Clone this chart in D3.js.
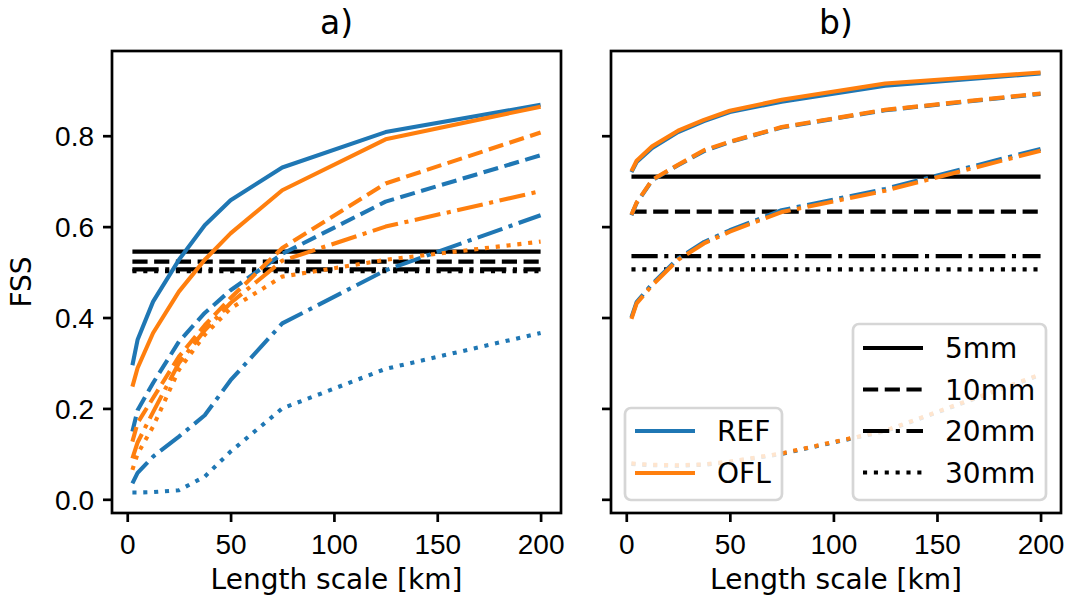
<!DOCTYPE html>
<html>
<head>
<meta charset="utf-8">
<script src="https://cdn.jsdelivr.net/npm/d3@7"></script>
<style>
  body { margin: 0; background: #fff; }
  svg { display: block; font-family: "DejaVu Sans", sans-serif; }
</style>
</head>
<body>
<svg id="chart" width="1070" height="599"></svg>
<script>
// length scales (km) on x
var lengthScales = [2.5, 5, 12.5, 25, 37.5, 50, 75, 125, 200];
var thresholds = ["5mm", "10mm", "20mm", "30mm"];
var models = ["REF", "OFL"];

// panel a) FSS per threshold
var refA5  = [0.295, 0.351, 0.435, 0.527, 0.603, 0.658, 0.730, 0.808, 0.868];
var oflA5  = [0.248, 0.289, 0.366, 0.457, 0.527, 0.585, 0.680, 0.792, 0.864];
var refA10 = [0.149, 0.196, 0.256, 0.347, 0.410, 0.460, 0.540, 0.655, 0.757];
var oflA10 = [0.127, 0.168, 0.223, 0.314, 0.383, 0.443, 0.553, 0.695, 0.807];
var refA20 = [0.035, 0.058, 0.094, 0.138, 0.185, 0.262, 0.387, 0.504, 0.625];
var oflA20 = [0.090, 0.125, 0.192, 0.300, 0.372, 0.432, 0.525, 0.600, 0.678];
var refA30 = [0.015, 0.015, 0.016, 0.020, 0.050, 0.105, 0.200, 0.287, 0.366];
var oflA30 = [0.065, 0.100, 0.160, 0.285, 0.362, 0.420, 0.490, 0.527, 0.567];
var uniformA = [0.545, 0.523, 0.506, 0.502];

// panel b)
var refB5  = [0.720, 0.742, 0.773, 0.808, 0.832, 0.852, 0.875, 0.910, 0.937];
var oflB5  = [0.722, 0.745, 0.777, 0.811, 0.835, 0.855, 0.879, 0.915, 0.939];
var refB10 = [0.625, 0.652, 0.702, 0.735, 0.766, 0.786, 0.818, 0.856, 0.892];
var oflB10 = [0.626, 0.653, 0.703, 0.736, 0.768, 0.787, 0.819, 0.857, 0.893];
var refB20 = [0.400, 0.434, 0.474, 0.530, 0.566, 0.592, 0.636, 0.683, 0.771];
var oflB20 = [0.397, 0.431, 0.471, 0.527, 0.563, 0.589, 0.632, 0.679, 0.767];
var refB30 = [0.078, 0.077, 0.075, 0.074, 0.076, 0.082, 0.100, 0.150, 0.274];
var oflB30 = [0.079, 0.078, 0.076, 0.075, 0.077, 0.083, 0.101, 0.151, 0.275];
var uniformB = [0.710, 0.633, 0.535, 0.506];

var xTicks = [0, 50, 100, 150, 200];
var yTicks = [0.0, 0.2, 0.4, 0.6, 0.8];

var colors = { REF: "#1f77b4", OFL: "#ff7f0e" };
var LW = 4.1;
var dashes = ["none", [3.7 * LW, 1.6 * LW], [6.4 * LW, 1.6 * LW, LW, 1.6 * LW], [LW, 1.65 * LW]];
var FS = 28;

var svg = d3.select("#chart");

var plotTop = 51, plotBottom = 513;
var y = d3.scaleLinear().domain([-0.0301, 0.9864]).range([plotBottom, plotTop]);

function dashAttr(d) { return d === "none" ? null : d.join(","); }

function drawPanel(left, right, title, ref, ofl, uniform, showYLabels) {
  var x = d3.scaleLinear().domain([-7.375, 209.875]).range([left, right]);
  var g = svg.append("g");

  var line = d3.line()
    .x(function (d, i) { return x(lengthScales[i]); })
    .y(function (d) { return y(d); });

  // black uniform-threshold lines go under the curves
  uniform.forEach(function (v, k) {
    g.append("line")
      .attr("x1", x(lengthScales[0]))
      .attr("x2", x(lengthScales[lengthScales.length - 1]))
      .attr("y1", y(v))
      .attr("y2", y(v))
      .attr("stroke", "#000")
      .attr("stroke-width", LW)
      .attr("stroke-dasharray", dashAttr(dashes[k]));
  });

  for (var k = 0; k < thresholds.length; k++) {
    [["REF", ref[k]], ["OFL", ofl[k]]].forEach(function (m) {
      g.append("path")
        .attr("d", line(m[1]))
        .attr("fill", "none")
        .attr("stroke", colors[m[0]])
        .attr("stroke-width", LW)
        .attr("stroke-linejoin", "round")
        .attr("stroke-dasharray", dashAttr(dashes[k]));
    });
  }

  // ticks
  var xAxis = d3.axisBottom(x).tickValues(xTicks).tickSize(9).tickPadding(9).tickFormat(d3.format("d"));
  var ax = g.append("g").attr("transform", "translate(0," + plotBottom + ")").call(xAxis);
  ax.select(".domain").remove();
  ax.selectAll("line").attr("stroke", "#000").attr("stroke-width", 2.7);
  ax.selectAll("text").attr("font-size", FS).attr("fill", "#000")
    .attr("dy", null).attr("y", 41);

  var yAxis = d3.axisLeft(y).tickValues(yTicks).tickSize(9).tickPadding(9)
    .tickFormat(showYLabels ? d3.format(".1f") : "");
  var ay = g.append("g").attr("transform", "translate(" + left + ",0)").call(yAxis);
  ay.select(".domain").remove();
  ay.selectAll("line").attr("stroke", "#000").attr("stroke-width", 2.7);
  ay.selectAll("text").attr("font-size", FS).attr("fill", "#000").attr("dy", "0.36em");

  // frame
  g.append("rect")
    .attr("x", left).attr("y", plotTop)
    .attr("width", right - left).attr("height", plotBottom - plotTop)
    .attr("fill", "none").attr("stroke", "#000").attr("stroke-width", 2.7);

  g.append("text")
    .attr("x", (left + right) / 2).attr("y", 34)
    .attr("text-anchor", "middle").attr("font-size", 33)
    .text(title);

  g.append("text")
    .attr("x", (left + right) / 2).attr("y", 589)
    .attr("text-anchor", "middle").attr("font-size", FS)
    .text("Length scale [km]");

  return x;
}

drawPanel(112, 561, "a)", [refA5, refA10, refA20, refA30], [oflA5, oflA10, oflA20, oflA30], uniformA, true);
drawPanel(611, 1061, "b)", [refB5, refB10, refB20, refB30], [oflB5, oflB10, oflB20, oflB30], uniformB, false);

svg.append("text")
  .attr("transform", "translate(31,282) rotate(-90)")
  .attr("text-anchor", "middle").attr("font-size", FS)
  .text("FSS");

// legends (panel b), semi-transparent like matplotlib
function legend(bx, by, bw, bh, items) {
  var lg = svg.append("g");
  lg.append("rect")
    .attr("x", bx).attr("y", by).attr("width", bw).attr("height", bh)
    .attr("rx", 6)
    .attr("fill", "#fff").attr("fill-opacity", 0.8)
    .attr("stroke", "#cccccc").attr("stroke-opacity", 0.8).attr("stroke-width", 2.7);
  items.forEach(function (it) {
    var yy = by + it.dy;
    lg.append("line")
      .attr("x1", bx + 10).attr("x2", bx + 10 + 60)
      .attr("y1", yy).attr("y2", yy)
      .attr("stroke", it.color).attr("stroke-width", LW)
      .attr("stroke-dasharray", dashAttr(it.dash));
    lg.append("text")
      .attr("x", bx + 92).attr("y", yy).attr("dy", "0.36em")
      .attr("font-size", FS).text(it.label);
  });
}

legend(625, 408, 157, 92, models.map(function (m, i) {
  return { label: m, color: colors[m], dash: "none", dy: 23 + i * 42 };
}));
legend(853, 324, 193, 176, thresholds.map(function (t, i) {
  return { label: t, color: "#000", dash: dashes[i], dy: 24 + i * 41.5 };
}));
</script>
</body>
</html>
